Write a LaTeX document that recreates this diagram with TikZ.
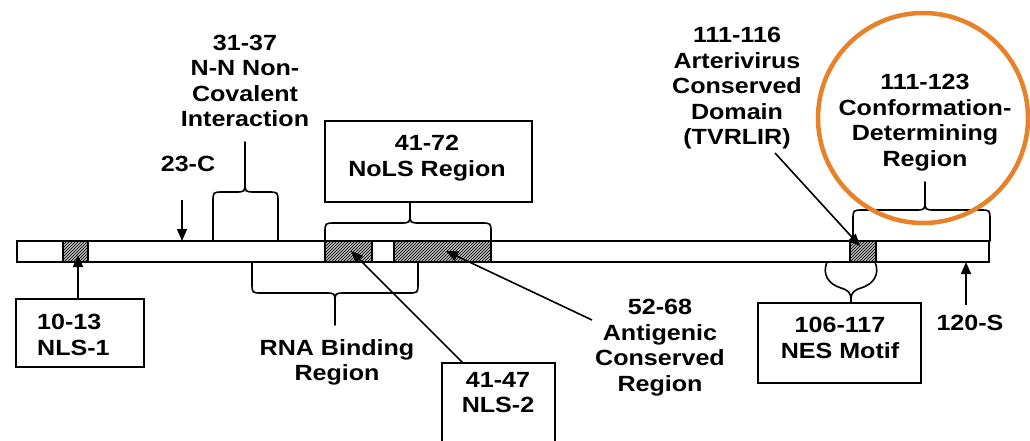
\documentclass[tikz,border=0pt]{standalone}
\usepackage{fontspec}
\setmainfont{Liberation Sans}[FakeStretch=1.14]
\usetikzlibrary{arrows.meta,patterns}
\definecolor{ring}{RGB}{231,130,40}
\tikzset{
 lbl/.style={font=\fontsize{22}{25.5}\selectfont\bfseries, align=center, inner sep=0pt, anchor=north},
 boxn/.style={draw, line width=1.6pt, inner sep=0pt, outer sep=0pt},
 hatch/.style={draw, line width=1.4pt, preaction={fill=gray!55}, pattern=north east lines, inner sep=0pt, outer sep=0pt, minimum height=21pt},
 brc/.style={line width=1.6pt, line join=round, line cap=round},
 arr/.style={line width=1.6pt, -{Triangle[length=12pt,width=10pt]}},
}
% #1 x1, #2 x2, #3 xm, #4 ybase, #5 yh, #6 ytip, #7 s (1 = tip up, -1 = tip down)
\newcommand\regbrace[7]{%
 \draw[brc] (#1,#4) -- (#1,{#5+10*(#7)}) .. controls (#1,#5) .. ({#1+10},#5) -- ({#3-10},#5) .. controls (#3,#5) .. (#3,{#5-10*(#7)}) -- (#3,#6);
 \draw[brc] (#2,#4) -- (#2,{#5+10*(#7)}) .. controls (#2,#5) .. ({#2-10},#5) -- ({#3+10},#5) .. controls (#3,#5) .. (#3,{#5-10*(#7)});
}
\begin{document}
\begin{tikzpicture}[x=1pt,y=-1pt]
\useasboundingbox (0,0) rectangle (1030,440);
% bar
\node[boxn, minimum width=972pt, minimum height=21pt, anchor=north west] (bar) at (17,241) {};
\node[hatch, minimum width=25pt] (h1) at (75.5,251.5) {};
\node[hatch, minimum width=47pt] (h2) at (348.5,251.5) {};
\node[hatch, minimum width=97pt] (h3) at (442.5,251.5) {};
\node[hatch, minimum width=26pt] (h4) at (863,251.5) {};
% boxes
\node[boxn, minimum width=128pt, minimum height=68pt] (nls1) at (80,333) {};
\node[boxn, minimum width=207pt, minimum height=81pt] (nols) at (428.5,161.5) {};
\node[boxn, minimum width=113pt, minimum height=90pt, anchor=north west] (nls2) at (442,363) {};
\node[boxn, minimum width=163pt, minimum height=80pt] (nes) at (839.5,343) {};
% texts
\node[lbl, anchor=north west, align=left] (t1013) at (37,314) {10-13\\NLS-1};
\node[lbl] (tnols) at (427,135) {41-72\\NoLS Region};
\node[lbl] (tnls2) at (498,372) {41-47\\NLS-2};
\node[lbl] (tnes) at (840,317) {106-117\\NES Motif};
\node[lbl] (t23) at (188,156) {23-C};
\node[lbl] (t3137) at (245,34.5) {31-37\\N-N Non-\\Covalent\\Interaction};
\node[lbl] (trna) at (337,339) {RNA Binding\\Region};
\node[lbl] (t5268) at (660,299) {52-68\\Antigenic\\Conserved\\Region};
\node[lbl] (t111) at (737,27) {111-116\\Arterivirus\\Conserved\\Domain\\(TVRLIR)};
\node[lbl] (t123) at (925,74) {111-123\\Conformation-\\Determining\\Region};
\node[lbl] (t120) at (970,315) {120-S};
% braces
\regbrace{213}{278}{245}{241}{192}{142}{1}
\regbrace{325}{491}{410}{241}{223}{202}{1}
\regbrace{252}{418}{335}{262}{293}{325}{-1}
\regbrace{853}{990}{925}{241}{210}{182}{1}
% NES brace (cusp form)
\draw[brc] (827,262) .. controls (822,274) and (828,284) .. (841,288) .. controls (848,290) and (851,293) .. (851,299) -- (nes.north -| 851,0);
\draw[brc] (875,262) .. controls (880,274) and (874,284) .. (861,288) .. controls (854,290) and (851,293) .. (851,299);
% arrows
\coordinate (h1t) at (78,255);
\draw[arr] (h1t |- nls1.north) -- (h1t);
\coordinate (c23s) at (182,200);
\draw[arr] (c23s) -- (c23s |- bar.north);
\coordinate (h2t) at (351,251);
\draw[arr] ([xshift=21pt]nls2.north west) -- (h2t);
\coordinate (agS) at (592,320);
\coordinate (h3t) at (446,251);
\draw[arr] (agS) -- (h3t);
\coordinate (avS) at (775,153);
\coordinate (h4t) at (860,246);
\draw[arr] (avS) -- (h4t);
\coordinate (sS) at (966,305);
\draw[arr] (sS) -- (sS |- bar.south);
% highlight ring
\draw[ring, line width=4.5pt] (923,118) circle[radius=105pt];
\end{tikzpicture}
\end{document}
